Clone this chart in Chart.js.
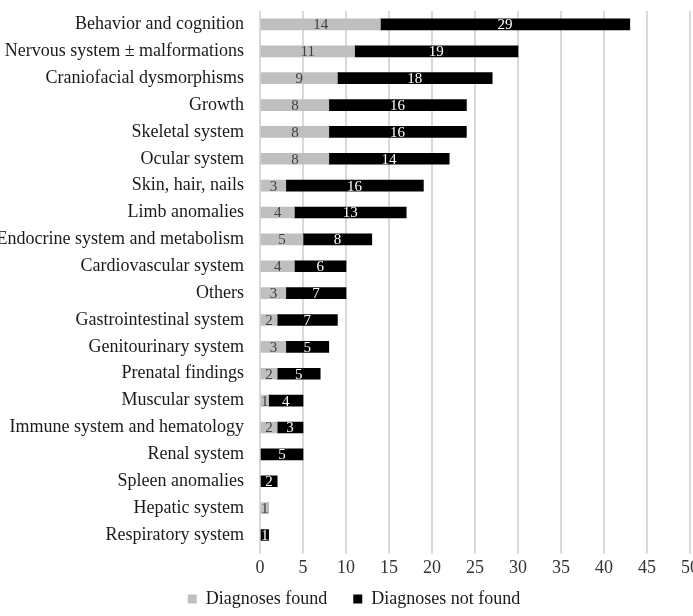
<!DOCTYPE html>
<html><head><meta charset="utf-8">
<script src="https://cdn.jsdelivr.net/npm/chart.js@4.4.1/dist/chart.umd.min.js"></script>
<style>
html,body{margin:0;padding:0;overflow:hidden;background:#fff;width:693px;height:616px;}
#wrap{position:absolute;left:-100px;top:0;width:900px;height:616px;}
</style></head><body>
<div id="wrap"><canvas id="c" width="900" height="616"></canvas></div>
<script>
const categories = ["Behavior and cognition","Nervous system \u00b1 malformations","Craniofacial dysmorphisms","Growth","Skeletal system","Ocular system","Skin, hair, nails","Limb anomalies","Endocrine system and metabolism","Cardiovascular system","Others","Gastrointestinal system","Genitourinary system","Prenatal findings","Muscular system","Immune system and hematology","Renal system","Spleen anomalies","Hepatic system","Respiratory system"];
const diagnosesFound = [14,11,9,8,8,8,3,4,5,4,3,2,3,2,1,2,0,0,1,0];
const diagnosesNotFound = [29,19,18,16,16,14,16,13,8,6,7,7,5,5,4,3,5,2,0,1];
const seriesNames = ["Diagnoses found","Diagnoses not found"];
const xTicks = [0,5,10,15,20,25,30,35,40,45,50];

const FONT = "'Liberation Serif','Times New Roman',serif";
const PAGE_OFFSET = 100; // canvas starts 100px left of the page
const LEGEND_PAD = 26;

const valueLabels = {
  id:'valueLabels',
  afterDatasetsDraw(chart){
    const ctx = chart.ctx;
    ctx.save();
    ctx.font = "15px " + FONT;
    ctx.textAlign = 'center';
    ctx.textBaseline = 'middle';
    chart.data.datasets.forEach((ds, di) => {
      const meta = chart.getDatasetMeta(di);
      meta.data.forEach((bar, i) => {
        const v = ds.data[i];
        if (!v) return;
        const cx = (bar.x + bar.base) / 2;
        ctx.fillStyle = di === 0 ? '#404040' : '#ffffff';
        ctx.fillText(String(v), cx, bar.y + 1);
      });
    });
    ctx.restore();
  }
};

const legendShift = {
  id:'legendShift',
  afterLayout(chart){
    const lg = chart.legend;
    if (!lg) return;
    const center = 354 + PAGE_OFFSET;
    const w = lg.right - lg.left;
    lg.left = center - w/2;
    lg.right = center + w/2;
    const h = lg.bottom - lg.top;
    lg.top = 599 - LEGEND_PAD - 9;
    lg.bottom = lg.top + h;
  }
};

new Chart(document.getElementById('c'), {
  type:'bar',
  data:{
    labels: categories,
    datasets:[
      {label: seriesNames[0], data: diagnosesFound, backgroundColor:'#bfbfbf', barThickness:11},
      {label: seriesNames[1], data: diagnosesNotFound, backgroundColor:'#000000', barThickness:11}
    ]
  },
  options:{
    indexAxis:'y',
    responsive:false,
    animation:false,
    devicePixelRatio:1,
    layout:{padding:{left:0,right:110,top:11,bottom:-21}},
    plugins:{
      legend:{position:'bottom',labels:{font:{family:FONT,size:18},color:'#1a1a1a',boxWidth:9,boxHeight:9,padding:LEGEND_PAD}},
      tooltip:{enabled:false}
    },
    scales:{
      x:{
        stacked:true, min:0, max:50,
        afterBuildTicks(s){ s.ticks = xTicks.map(v=>({value:v})); },
        grid:{color:'#d9d9d9',lineWidth:2,tickLength:5,drawTicks:true},
        border:{display:false},
        ticks:{font:{family:FONT,size:18},color:'#333333',padding:4,maxRotation:0}
      },
      y:{
        stacked:true,
        afterFit(s){ s.width = 260 + PAGE_OFFSET; s.paddingTop = 0; s.paddingBottom = 0; },
        grid:{display:false},
        border:{display:false},
        ticks:{font:{family:FONT,size:18},color:'#1a1a1a',padding:8,autoSkip:false}
      }
    }
  },
  plugins:[valueLabels, legendShift]
});
</script>
</body></html>
